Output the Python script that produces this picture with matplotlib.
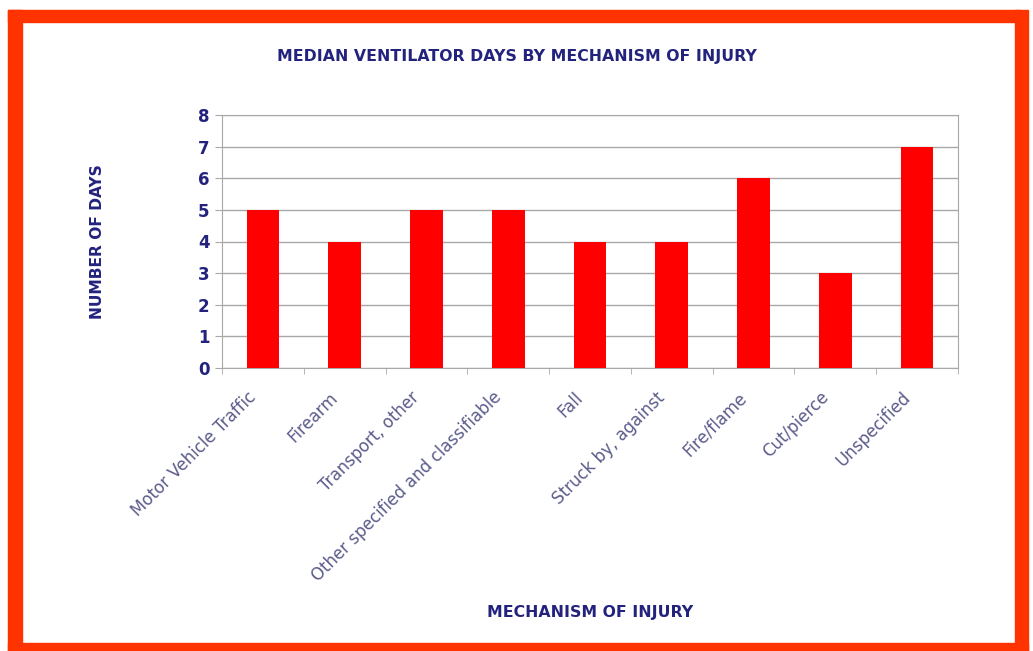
import matplotlib
matplotlib.use("Agg")
import matplotlib.pyplot as plt
from matplotlib.patches import Rectangle
from matplotlib.transforms import ScaledTranslation

# --- data ---
categories = ["Motor Vehicle Traffic", "Firearm", "Transport, other",
              "Other specified and classifiable", "Fall", "Struck by, against",
              "Fire/flame", "Cut/pierce", "Unspecified"]
median_days = [5, 4, 5, 5, 4, 4, 6, 3, 7]

NAVY = "#23237e"
LABEL_GREY = "#5c5c8c"
GRID = "#a8a8a8"

fig = plt.figure(figsize=(10.33, 6.51), dpi=100)
fig.patch.set_facecolor("white")

# orange-red frame round the chart
W, H = 1033, 651
frame = [(8, 0, 14, H - 10), (8, H - 22, 1020 - 8, 12),
         (1015, 0, 13, H - 10), (8, 0, 1020, 8)]
for x, y, w, h in frame:
    fig.patches.append(Rectangle((x / W, y / H), w / W, h / H,
                                 transform=fig.transFigure, color="#ff3300", zorder=0))

ax = fig.add_axes([222 / W, 283 / H, 736 / W, 253 / H])
x = range(len(categories))
ax.bar(x, median_days, width=0.4, color="#ff0000", zorder=3)

ax.set_xlim(-0.5, len(categories) - 0.5)
ax.set_ylim(0, 8)
ax.set_yticks(range(0, 9))
ax.yaxis.grid(True, color=GRID, linewidth=1, zorder=0)
for s in ax.spines.values():
    s.set_color(GRID)

ax.set_xticks(list(x))
ax.set_xticklabels(categories, rotation=45, ha="right", rotation_mode="anchor",
                   fontsize=12, color=LABEL_GREY)
ax.tick_params(axis="x", length=0, pad=6)
# nudge the slanted labels down-left like the original
shift = ScaledTranslation(-0.16, -0.12, fig.dpi_scale_trans)
for lbl in ax.get_xticklabels():
    lbl.set_transform(lbl.get_transform() + shift)
ax.set_xticks([i + 0.5 for i in range(-1, len(categories))], minor=True)
ax.tick_params(axis="x", which="minor", length=4, color=GRID)
ax.tick_params(axis="y", length=5, color=GRID, labelsize=12, labelcolor=NAVY, pad=4)
for lbl in ax.get_yticklabels():
    lbl.set_fontweight("bold")

fig.text(517 / W, 1 - 57 / H, "MEDIAN VENTILATOR DAYS BY MECHANISM OF INJURY",
         ha="center", va="center", fontsize=11.3, fontweight="bold", color=NAVY)
fig.text(97 / W, 1 - 242 / H, "NUMBER OF DAYS", rotation=90,
         ha="center", va="center", fontsize=11.2, fontweight="bold", color=NAVY)
fig.text(590 / W, 1 - 613 / H, "MECHANISM OF INJURY",
         ha="center", va="center", fontsize=11.3, fontweight="bold", color=NAVY)

fig.savefig("out.png", dpi=100)
